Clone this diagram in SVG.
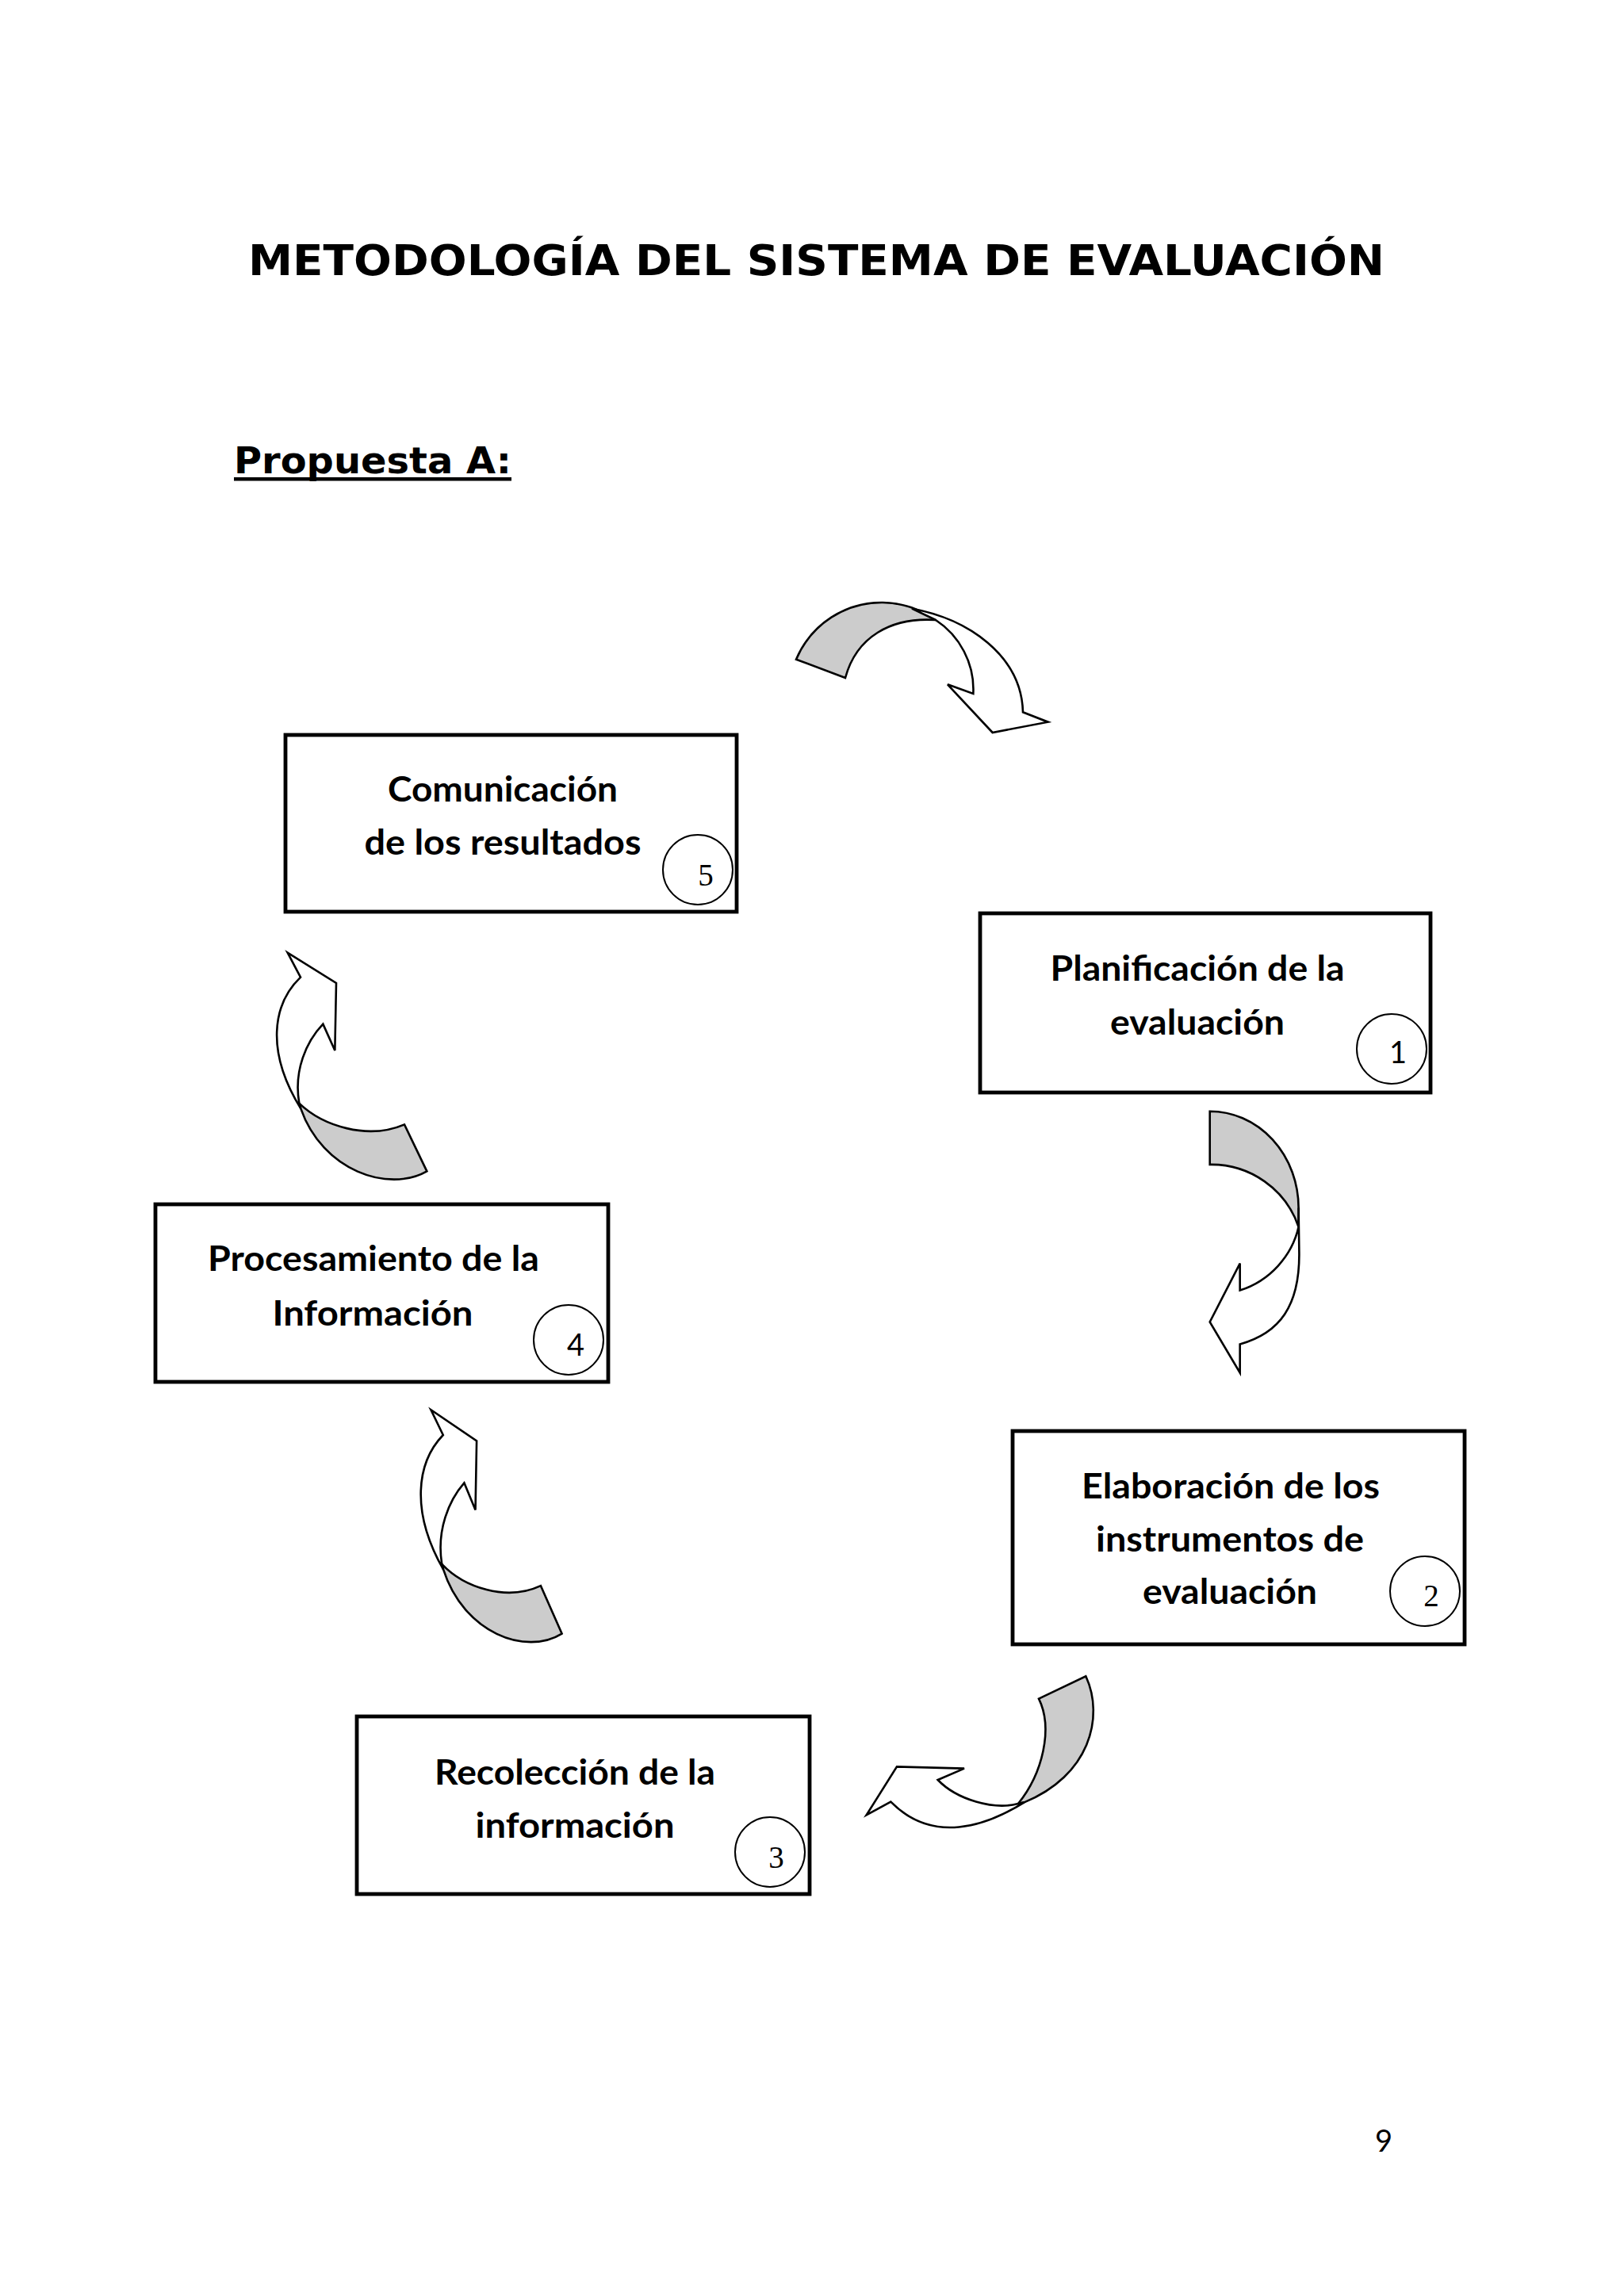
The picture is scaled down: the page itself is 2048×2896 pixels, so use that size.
<svg xmlns="http://www.w3.org/2000/svg" width="2048" height="2896" viewBox="0 0 2048 2896">
<style>
.box{fill:#fff;stroke:#000;stroke-width:4.8}
.ring{fill:none;stroke:#000;stroke-width:2}
.lbl{font-family:Lato,"Liberation Sans",sans-serif;font-weight:700;font-size:44px;text-anchor:middle;fill:#000}
.ds{font-family:"Liberation Serif",serif;font-size:39px;text-anchor:middle;fill:#000}
.da{font-family:Lato,"Liberation Sans",sans-serif;font-size:38px;text-anchor:middle;fill:#000}
.shade{fill:#cccccc;stroke:#000;stroke-width:2.6;stroke-linejoin:miter;vector-effect:non-scaling-stroke}
.front{fill:#fff;stroke:#000;stroke-width:2.6;stroke-linejoin:miter;vector-effect:non-scaling-stroke}
.head{font-family:"DejaVu Sans",Verdana,sans-serif;font-weight:700;fill:#000}
</style>
<defs>
<g id="upArrow">
<path class="shade" d="M172,605 C260,690 430,745 570,685 L655,862 C510,945 260,860 178,625 Z"/>
<path class="front" d="M177,128 L128,35 L312,150 L307,405 L262,305 C200,370 150,480 172,605 L178,625 C45,410 70,230 177,128 Z"/>
</g>
</defs>
<rect width="2048" height="2896" fill="#fff"/>
<g id="title">
<text class="head" x="313" y="347" font-size="54" textLength="1433" lengthAdjust="spacingAndGlyphs">METODOLOGÍA DEL SISTEMA DE EVALUACIÓN</text>
<text class="head" x="295" y="597" font-size="47" textLength="350" lengthAdjust="spacingAndGlyphs">Propuesta A:</text>
<rect x="295" y="602" width="350" height="4.5" fill="#000"/>
</g>
<g id="connectors">
<g id="arrow-5-1" transform="translate(950,720) scale(0.33333)">
<path class="shade" d="M162,335 C220,200 350,118 490,120 C570,122 640,150 690,186 C520,175 390,250 348,405 Z"/>
<path class="front" d="M600,143 C810,180 1015,320 1020,535 L1115,572 L905,612 L735,430 L832,465 C838,350 780,245 690,186 Z"/>
</g>
<g id="arrow-1-2" transform="translate(1230,1140) scale(0.3996)">
<path class="shade" d="M740,655 A280,305 0 0 1 1020,960 L1020,1020 A290,287 0 0 0 740,823 Z"/>
<path class="front" d="M1020,960 L1022,1100 C1024,1270 960,1355 835,1390 L835,1480 L740,1320 L835,1135 L835,1220 C930,1190 1000,1110 1020,1020 Z"/>
</g>
<g id="arrow-2-3" transform="translate(1080,2080) scale(0.33333)">
<path class="shade" d="M690,188 L868,103 C940,260 880,480 635,580 L612,585 C705,470 745,300 690,188 Z"/>
<path class="front" d="M635,580 C490,670 290,740 130,578 L38,628 L153,445 L408,452 L308,495 C380,570 520,610 612,585 Z"/>
</g>
<use id="arrow-3-4" href="#upArrow" transform="translate(500,1770) scale(0.33333) translate(10,-11) scale(0.94,1.024)"/>
<use id="arrow-4-5" href="#upArrow" transform="translate(320,1190) scale(0.33333)"/>
</g>
<g id="node-5">
<rect class="box" x="360" y="927" width="569" height="223"/>
<text class="lbl" x="634" y="1011" textLength="290" lengthAdjust="spacingAndGlyphs">Comunicación</text>
<text class="lbl" x="634" y="1078" textLength="349" lengthAdjust="spacingAndGlyphs">de los resultados</text>
<circle class="ring" cx="880" cy="1097" r="44"/>
<text class="ds" x="890" y="1117">5</text>
</g>
<g id="node-1">
<rect class="box" x="1236" y="1152" width="568" height="226"/>
<text class="lbl" x="1510" y="1237" textLength="371" lengthAdjust="spacingAndGlyphs">Planificación de la</text>
<text class="lbl" x="1510" y="1305" textLength="220" lengthAdjust="spacingAndGlyphs">evaluación</text>
<circle class="ring" cx="1755" cy="1323" r="44"/>
<text class="da" x="1763" y="1341">1</text>
</g>
<g id="node-2">
<rect class="box" x="1277" y="1805" width="570" height="269"/>
<text class="lbl" x="1552" y="1890" textLength="376" lengthAdjust="spacingAndGlyphs">Elaboración de los</text>
<text class="lbl" x="1551" y="1957" textLength="338" lengthAdjust="spacingAndGlyphs">instrumentos de</text>
<text class="lbl" x="1551" y="2023" textLength="220" lengthAdjust="spacingAndGlyphs">evaluación</text>
<circle class="ring" cx="1797" cy="2007" r="44"/>
<text class="ds" x="1805" y="2026">2</text>
</g>
<g id="node-3">
<rect class="box" x="450" y="2165" width="571" height="224"/>
<text class="lbl" x="725" y="2251" textLength="354" lengthAdjust="spacingAndGlyphs">Recolección de la</text>
<text class="lbl" x="725" y="2318" textLength="251" lengthAdjust="spacingAndGlyphs">información</text>
<circle class="ring" cx="971" cy="2336" r="44"/>
<text class="ds" x="979" y="2356">3</text>
</g>
<g id="node-4">
<rect class="box" x="196" y="1519" width="571" height="224"/>
<text class="lbl" x="471" y="1603" textLength="418" lengthAdjust="spacingAndGlyphs">Procesamiento de la</text>
<text class="lbl" x="470" y="1672" textLength="253" lengthAdjust="spacingAndGlyphs">Información</text>
<circle class="ring" cx="717" cy="1690" r="44"/>
<text class="da" x="726" y="1710">4</text>
</g>
<g id="page">
<text class="da" x="1745" y="2714" font-size="37">9</text>
</g>
</svg>
